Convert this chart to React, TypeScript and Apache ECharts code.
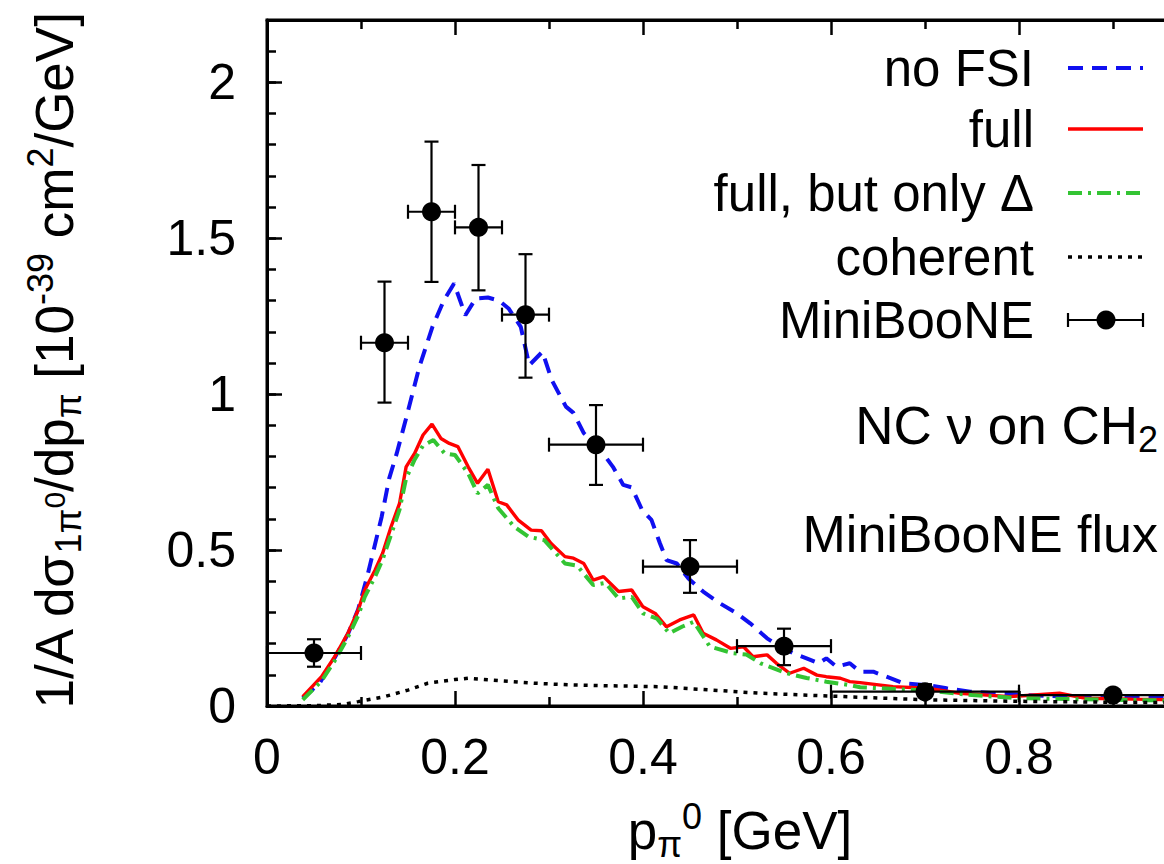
import React, { useEffect, useRef } from 'react';
import * as echarts from 'echarts';

// ---- data ----
const noFsi: [number, number][] = [
  [0.038, 0.025], [0.056, 0.073], [0.072, 0.155], [0.086, 0.23], [0.097, 0.31], [0.107, 0.42],
  [0.122, 0.607], [0.13, 0.73], [0.138, 0.81], [0.1475, 0.917], [0.162, 1.087], [0.176, 1.216],
  [0.188, 1.3], [0.199, 1.355], [0.211, 1.253], [0.222, 1.307], [0.235, 1.31], [0.247, 1.3],
  [0.257, 1.275], [0.27, 1.216], [0.279, 1.093], [0.293, 1.136], [0.303, 1.045], [0.318, 0.96],
  [0.326, 0.94], [0.337, 0.875], [0.352, 0.832], [0.368, 0.767], [0.379, 0.709], [0.388, 0.701],
  [0.399, 0.629], [0.409, 0.597], [0.418, 0.522], [0.425, 0.468], [0.436, 0.457], [0.448, 0.41],
  [0.464, 0.367], [0.482, 0.329], [0.5, 0.297], [0.514, 0.265], [0.532, 0.217], [0.546, 0.19],
  [0.56, 0.169], [0.574, 0.153], [0.587, 0.137], [0.595, 0.153], [0.606, 0.126], [0.62, 0.137],
  [0.631, 0.11], [0.645, 0.11], [0.659, 0.094], [0.677, 0.073], [0.702, 0.067], [0.723, 0.057],
  [0.748, 0.046], [0.773, 0.041], [0.808, 0.035], [0.85, 0.03], [0.9, 0.028], [0.95, 0.027], [1.0, 0.025],
];
const full: [number, number][] = [
  [0.038, 0.03], [0.058, 0.094], [0.072, 0.158], [0.086, 0.233], [0.097, 0.308], [0.104, 0.372],
  [0.115, 0.436], [0.123, 0.49], [0.132, 0.575], [0.141, 0.65], [0.148, 0.767], [0.157, 0.81],
  [0.166, 0.869], [0.1755, 0.904], [0.185, 0.858], [0.194, 0.842], [0.203, 0.832], [0.214, 0.767],
  [0.224, 0.714], [0.235, 0.759], [0.246, 0.655], [0.255, 0.645], [0.267, 0.597], [0.281, 0.564],
  [0.292, 0.562], [0.302, 0.522], [0.317, 0.479], [0.326, 0.474], [0.337, 0.457], [0.347, 0.404],
  [0.358, 0.415], [0.374, 0.367], [0.388, 0.372], [0.4, 0.318], [0.413, 0.297], [0.425, 0.254],
  [0.439, 0.276], [0.454, 0.292], [0.464, 0.233], [0.478, 0.212], [0.493, 0.185], [0.507, 0.19],
  [0.517, 0.158], [0.532, 0.164], [0.542, 0.137], [0.556, 0.105], [0.571, 0.121], [0.585, 0.099],
  [0.595, 0.094], [0.61, 0.089], [0.62, 0.078], [0.631, 0.075], [0.666, 0.062], [0.702, 0.057],
  [0.737, 0.041], [0.79, 0.03], [0.843, 0.041], [0.87, 0.025], [0.92, 0.022], [0.96, 0.02], [1.0, 0.018],
];
const fullDelta: [number, number][] = [
  [0.038, 0.02], [0.058, 0.08], [0.072, 0.145], [0.086, 0.22], [0.097, 0.29], [0.104, 0.35],
  [0.115, 0.415], [0.123, 0.47], [0.132, 0.55], [0.141, 0.63], [0.148, 0.73], [0.157, 0.79],
  [0.166, 0.835], [0.177, 0.853], [0.189, 0.81], [0.2, 0.805], [0.214, 0.746], [0.224, 0.682],
  [0.235, 0.709], [0.246, 0.634], [0.263, 0.575], [0.278, 0.543], [0.295, 0.532], [0.317, 0.457],
  [0.33, 0.45], [0.347, 0.388], [0.36, 0.395], [0.374, 0.345], [0.388, 0.35], [0.4, 0.297],
  [0.415, 0.28], [0.428, 0.233], [0.442, 0.255], [0.454, 0.27], [0.471, 0.191], [0.496, 0.169],
  [0.51, 0.165], [0.525, 0.137], [0.553, 0.105], [0.574, 0.09], [0.595, 0.078], [0.62, 0.067],
  [0.631, 0.06], [0.7, 0.05], [0.75, 0.035], [0.8, 0.025], [0.9, 0.02], [1.0, 0.016],
];
const coherent: [number, number][] = [
  [0.0, 0.0], [0.05, 0.001], [0.08, 0.005], [0.097, 0.014], [0.125, 0.03], [0.15, 0.051],
  [0.171, 0.073], [0.2, 0.085], [0.214, 0.089], [0.249, 0.081], [0.285, 0.073], [0.32, 0.068],
  [0.36, 0.065], [0.418, 0.062], [0.524, 0.041], [0.631, 0.028], [0.7, 0.02], [0.8, 0.015],
  [0.9, 0.012], [1.0, 0.01],
];
// MiniBooNE data points
const mbX = [0.05, 0.125, 0.175, 0.225, 0.275, 0.35, 0.45, 0.55, 0.7, 0.9];
const mbXLo = [0.0, 0.1, 0.15, 0.2, 0.25, 0.3, 0.4, 0.5, 0.6, 0.8];
const mbXHi = [0.1, 0.15, 0.2, 0.25, 0.3, 0.4, 0.5, 0.6, 0.8, 1.0];
const mbY = [0.17, 1.165, 1.585, 1.535, 1.255, 0.838, 0.447, 0.192, 0.046, 0.035];
const mbYLo = [0.126, 0.973, 1.36, 1.333, 1.053, 0.709, 0.363, 0.131, 0.03, 0.028];
const mbYHi = [0.214, 1.361, 1.81, 1.735, 1.449, 0.965, 0.532, 0.248, 0.07, 0.045];

const legendLabels = ['no FSI', 'full', 'full, but only \u0394', 'coherent', 'MiniBooNE'];

const FONT = '"Liberation Sans", Arial, Helvetica, sans-serif';
const BLUE = '#1010f0';
const RED = '#ff0000';
const GREEN = '#33c433';
const BLACK = '#000000';

const lineStyles = [
  { stroke: BLUE, lineWidth: 4, lineDash: [15, 9] },
  { stroke: RED, lineWidth: 3.4 },
  { stroke: GREEN, lineWidth: 4, lineDash: [14, 6, 3, 6] },
  { stroke: BLACK, lineWidth: 3.5, lineDash: [4, 6] },
];

export default function App() {
  const ref = useRef<HTMLDivElement>(null);
  useEffect(() => {
    if (!ref.current) return;
    const chart = echarts.init(ref.current, undefined, { renderer: 'svg' });

    const tickCommon = {
      axisLine: { show: true, onZero: false, lineStyle: { color: BLACK, width: 3 } },
      splitLine: { show: false },
      minorSplitLine: { show: false },
    };

    const mbData = mbX.map((x, i) => [x, mbY[i], mbXLo[i], mbXHi[i], mbYLo[i], mbYHi[i]]);

    const legendY = [68, 129, 193, 257, 320];
    const legendGraphics: any[] = [];
    legendLabels.forEach((lab, i) => {
      legendGraphics.push({
        type: 'text', x: 1034, y: legendY[i], z: 100,
        style: { text: lab, fontSize: 51, fontFamily: FONT, fill: BLACK, textAlign: 'right', textVerticalAlign: 'middle' },
      });
      if (i < 4) {
        const s: any = lineStyles[i];
        legendGraphics.push({
          type: 'line', z: 100,
          shape: { x1: 1068, y1: legendY[i], x2: 1143, y2: legendY[i] },
          style: { ...s, fill: null },
        });
      } else {
        const ls = { stroke: BLACK, lineWidth: 2.2 };
        legendGraphics.push(
          { type: 'line', z: 100, shape: { x1: 1068, y1: legendY[i], x2: 1143, y2: legendY[i] }, style: ls },
          { type: 'line', z: 100, shape: { x1: 1068, y1: legendY[i] - 7, x2: 1068, y2: legendY[i] + 7 }, style: ls },
          { type: 'line', z: 100, shape: { x1: 1143, y1: legendY[i] - 7, x2: 1143, y2: legendY[i] + 7 }, style: ls },
          { type: 'circle', z: 100, shape: { cx: 1106, cy: legendY[i], r: 9.5 }, style: { fill: BLACK } },
        );
      }
    });

    const richMain = { fontSize: 53, fontFamily: FONT, fill: BLACK, lineHeight: 64, verticalAlign: 'middle' };
    const richSub = { fontSize: 36, fontFamily: FONT, fill: BLACK, lineHeight: 36, verticalAlign: 'bottom' };
    const richSup = { fontSize: 36, fontFamily: FONT, fill: BLACK, lineHeight: 36, verticalAlign: 'top' };
    const richMid = { fontSize: 30, fontFamily: FONT, fill: BLACK, lineHeight: 30, verticalAlign: 'middle' };

    chart.setOption({
      animation: false,
      backgroundColor: '#ffffff',
      grid: {
        left: 267, top: 20, right: -43, bottom: 158, show: true, borderColor: BLACK, borderWidth: 3,
        containLabel: false, outerBoundsMode: 'none',
      },
      xAxis: [
        {
          type: 'value', min: 0, max: 1, interval: 0.2, position: 'bottom', ...tickCommon,
          axisTick: { show: true, inside: true, length: 15, lineStyle: { color: BLACK, width: 2.5 } },
          minorTick: { show: true, splitNumber: 2, length: 9, lineStyle: { color: BLACK, width: 2.5 } },
          axisLabel: { color: BLACK, fontSize: 50, fontFamily: FONT, margin: 26, hideOverlap: false, showMaxLabel: false },
        },
        {
          type: 'value', min: 0, max: 1, interval: 0.2, position: 'top', ...tickCommon,
          axisTick: { show: true, inside: true, length: 15, lineStyle: { color: BLACK, width: 2.5 } },
          minorTick: { show: true, splitNumber: 2, length: 9, lineStyle: { color: BLACK, width: 2.5 } },
          axisLabel: { show: false },
        },
      ],
      yAxis: [
        {
          type: 'value', min: 0, max: 2.2, interval: 0.5, position: 'left', ...tickCommon,
          axisTick: { show: true, inside: true, length: 15, lineStyle: { color: BLACK, width: 2.5 } },
          axisLabel: {
            color: BLACK, fontSize: 50, fontFamily: FONT, margin: 31,
            formatter: (v: number) => (Math.abs(v / 0.5 - Math.round(v / 0.5)) < 1e-6 ? String(v) : ''),
          },
        },
        {
          type: 'value', min: 0, max: 2.2, interval: 0.1, position: 'left', ...tickCommon,
          axisLine: { show: false },
          axisTick: { show: true, inside: true, length: 9, lineStyle: { color: BLACK, width: 2.5 } },
          axisLabel: { show: false },
        },
      ],
      series: [
        {
          type: 'line', name: legendLabels[0], data: noFsi, showSymbol: false, symbol: 'none', z: 3, silent: true,
          lineStyle: { color: BLUE, width: 4, type: [15, 9] },
        },
        {
          type: 'line', name: legendLabels[1], data: full, showSymbol: false, symbol: 'none', z: 4, silent: true,
          lineStyle: { color: RED, width: 3.4 },
        },
        {
          type: 'line', name: legendLabels[2], data: fullDelta, showSymbol: false, symbol: 'none', z: 5, silent: true,
          lineStyle: { color: GREEN, width: 4, type: [14, 6, 3, 6] },
        },
        {
          type: 'line', name: legendLabels[3], data: coherent, showSymbol: false, symbol: 'none', z: 6, silent: true,
          lineStyle: { color: BLACK, width: 3.5, type: [4, 6] },
        },
        {
          type: 'custom', name: legendLabels[4], data: mbData, z: 10, silent: true,
          encode: { x: 0, y: 1 },
          renderItem: (params: any, api: any) => {
            const x = api.value(0), y = api.value(1);
            const c = api.coord([x, y]);
            const l = api.coord([api.value(2), y]);
            const r = api.coord([api.value(3), y]);
            const b = api.coord([x, api.value(4)]);
            const t = api.coord([x, api.value(5)]);
            const cap = 7;
            const ls = { stroke: BLACK, lineWidth: 2.2 };
            return {
              type: 'group',
              children: [
                { type: 'line', shape: { x1: l[0], y1: c[1], x2: r[0], y2: c[1] }, style: ls },
                { type: 'line', shape: { x1: l[0], y1: c[1] - cap, x2: l[0], y2: c[1] + cap }, style: ls },
                { type: 'line', shape: { x1: r[0], y1: c[1] - cap, x2: r[0], y2: c[1] + cap }, style: ls },
                { type: 'line', shape: { x1: c[0], y1: b[1], x2: c[0], y2: t[1] }, style: ls },
                { type: 'line', shape: { x1: c[0] - cap, y1: b[1], x2: c[0] + cap, y2: b[1] }, style: ls },
                { type: 'line', shape: { x1: c[0] - cap, y1: t[1], x2: c[0] + cap, y2: t[1] }, style: ls },
                { type: 'circle', shape: { cx: c[0], cy: c[1], r: 9.5 }, style: { fill: BLACK } },
              ],
            };
          },
        },
      ],
      graphic: [
        ...legendGraphics,
        {
          type: 'text', x: 1158, y: 425, z: 100,
          style: {
            text: '{m|NC \u03BD on CH}{s|2}', textAlign: 'right', textVerticalAlign: 'middle',
            rich: { m: richMain, s: richSub },
          },
        },
        {
          type: 'text', x: 1158, y: 534, z: 100,
          style: { text: 'MiniBooNE flux', fontSize: 52, fontFamily: FONT, fill: BLACK, textAlign: 'right', textVerticalAlign: 'middle' },
        },
        {
          type: 'text', x: 740, y: 830, z: 100,
          style: {
            text: '{m|p}{s|\u03C0}{u|0}{m| [GeV]}', textAlign: 'center', textVerticalAlign: 'middle',
            rich: { m: richMain, s: richSub, u: richSup },
          },
        },
        {
          type: 'text', x: 54, y: 361, rotation: Math.PI / 2, z: 100,
          style: {
            text: '{m|1/A d\u03C3}{s|1\u03C0}{c|0}{m|/dp}{s|\u03C0}{m| [10}{u|-39}{m| cm}{u|2}{m|/GeV]}',
            textAlign: 'center', textVerticalAlign: 'middle',
            rich: { m: richMain, s: richSub, u: richSup, c: richMid },
          },
        },
      ],
    });
    return () => chart.dispose();
  }, []);
  return (
    <div
      ref={ref}
      style={{ position: 'absolute', left: 0, top: 0, width: 1164, height: 864, background: '#fff' }}
    />
  );
}
